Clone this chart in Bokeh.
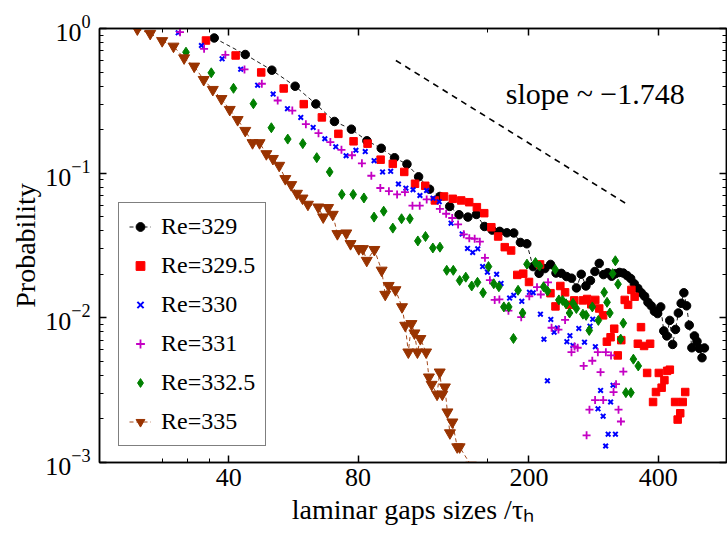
from bokeh.plotting import figure
from bokeh.models import (FixedTicker, Legend, LegendItem, Label, LogAxis, Range1d,
                          CustomJSTickFormatter)
from bokeh.embed import file_html
from bokeh.resources import INLINE

FONT = "Liberation Serif"

# ---------------- axis ticks ----------------
x_ticks = [40, 80, 200, 400]
x_tick_labels = ["40", "80", "200", "400"]
x_minor_ticks = [28, 32, 36, 160]
y_ticks = [0.001, 0.01, 0.1, 1.0]
y_minor_ticks = [m * d for d in (0.001, 0.01, 0.1) for m in range(2, 10)]

x_title = "laminar gaps sizes /\u03c4\u2095"
y_title = "Probability"

# ---------------- data ----------------
labels = ["Re=329", "Re=329.5", "Re=330", "Re=331", "Re=332.5", "Re=335"]

x_329 = [37.0, 43.7, 50.4, 57.1, 63.8, 70.5, 77.2, 83.9, 90.6, 97.3, 104.0, 110.7, 117.4,
         124.1, 130.8, 137.5, 144.2, 150.9, 157.6, 164.3, 171.0, 177.7, 184.4, 191.1,
         197.8, 204.5, 211.2, 217.9, 224.6, 231.3, 238.0, 244.7, 251.4, 258.1, 264.8,
         271.5, 278.2, 284.9, 291.6, 298.3, 305.0, 311.7, 318.4, 325.1, 331.8, 338.5,
         345.2, 351.9, 358.6, 365.3, 372.0, 378.7, 385.4, 392.1, 398.8, 405.5, 412.2,
         418.9, 425.6, 432.3, 439.0, 445.7, 452.4, 459.1, 465.8, 472.5, 479.2, 485.9,
         492.6, 499.3, 506.0, 512.7]
p_329 = [0.860, 0.661, 0.515, 0.399, 0.301, 0.2277, 0.2014, 0.1675, 0.1486, 0.1278, 0.1154,
         0.0944, 0.0775, 0.0690, 0.0589, 0.0516, 0.0497, 0.0518, 0.0428, 0.0404, 0.0396,
         0.0387, 0.0386, 0.0332, 0.0325, 0.0226, 0.0203, 0.0219, 0.0234, 0.0204, 0.0203,
         0.0193, 0.0188, 0.0161, 0.0200, 0.0166, 0.0181, 0.0209, 0.0238, 0.0199, 0.0205,
         0.0194, 0.0202, 0.0206, 0.0204, 0.0196, 0.0187, 0.0172, 0.0160, 0.0149, 0.0141,
         0.0128, 0.0121, 0.0111, 0.0107, 0.0119, 0.00812, 0.00750, 0.00960, 0.00655,
         0.00831, 0.0108, 0.0126, 0.0149, 0.0121, 0.00890, 0.00621, 0.0075, 0.00687,
         0.00614, 0.00530, 0.00619]

x_3295 = [35.4, 41.5, 47.6, 53.7, 59.8, 65.9, 72.0, 78.1, 84.2, 90.3, 96.4, 102.5, 108.6,
          114.7, 120.8, 126.9, 133.0, 139.1, 145.2, 151.3, 157.4, 163.5, 169.6, 175.7,
          181.8, 187.9, 194.0, 200.1, 212.3, 224.5, 230.6, 236.7, 242.8, 248.9, 255.0,
          267.2, 273.3, 279.4, 285.5, 291.6, 297.7, 303.8, 309.9, 316.0, 322.1, 328.2,
          334.3, 340.4, 346.5, 352.6, 358.7, 364.8, 370.9, 377.0, 383.1, 389.2, 395.3,
          401.4, 407.5, 413.6, 419.7, 425.8, 438.0, 444.1, 450.2, 456.3, 462.4]
p_3295 = [0.826, 0.651, 0.497, 0.385, 0.300, 0.243, 0.187, 0.166, 0.160, 0.124, 0.116,
          0.102, 0.0845, 0.0818, 0.0648, 0.0690, 0.0665, 0.0648, 0.0630, 0.0582, 0.0529,
          0.0423, 0.0365, 0.0308, 0.0292, 0.0198, 0.0202, 0.0177, 0.0234, 0.0148, 0.0120,
          0.0166, 0.0150, 0.0123, 0.0132, 0.0132, 0.0135, 0.0124, 0.0133, 0.0116, 0.0104,
          0.00684, 0.00734, 0.00841, 0.00550, 0.00701, 0.0133, 0.0123, 0.0156, 0.0140,
          0.00662, 0.00862, 0.00639, 0.00416, 0.00662, 0.00262, 0.00307, 0.00416, 0.00329,
          0.00371, 0.00430, 0.00438, 0.00262, 0.00198, 0.00219, 0.00262, 0.00307]

x_330 = [30.50, 34.55, 38.60, 42.65, 46.70, 50.75, 54.80, 58.85, 62.90, 66.95, 71.00,
         75.05, 79.10, 83.15, 87.20, 91.25, 95.30, 99.35, 103.40, 107.45, 111.50, 115.55,
         119.60, 123.65, 131.75, 139.85, 143.90, 147.95, 152.00, 156.05, 160.10, 168.20,
         172.25, 180.35, 184.40, 192.50, 200.60, 204.65, 212.75, 216.80, 220.85, 224.90,
         228.95, 233.00, 245.15, 249.20, 253.25, 261.35, 269.45, 277.55, 281.60, 285.65,
         289.70, 293.75, 297.80, 301.85, 305.90, 309.95, 314.00, 318.05]
p_330 = [0.934, 0.763, 0.617, 0.523, 0.406, 0.352, 0.279, 0.243, 0.207, 0.173, 0.152,
         0.132, 0.144, 0.141, 0.122, 0.102, 0.103, 0.0842, 0.0787, 0.0768, 0.0701, 0.0759,
         0.0672, 0.0635, 0.0451, 0.0380, 0.0302, 0.0283, 0.0300, 0.0226, 0.0207, 0.0200,
         0.0173, 0.0137, 0.0143, 0.0130, 0.0150, 0.0149, 0.0106, 0.00711, 0.00367,
         0.00975, 0.00796, 0.00851, 0.00684, 0.00753, 0.00645, 0.00845, 0.00679, 0.00876,
         0.00979, 0.00632, 0.00235, 0.00315, 0.00209, 0.00130, 0.00157, 0.00262, 0.00342,
         0.00157]

x_331 = [30.80, 35.04, 39.28, 43.52, 47.76, 52.00, 56.24, 60.48, 64.72, 68.96, 73.20,
         77.44, 81.68, 85.92, 90.16, 94.40, 98.64, 102.88, 107.12, 111.36, 115.60, 124.08,
         128.32, 132.56, 136.80, 141.04, 145.28, 149.52, 153.76, 158.00, 162.24, 166.48,
         170.72, 179.20, 191.92, 200.40, 208.88, 213.12, 221.60, 225.84, 234.32, 242.80,
         251.28, 255.52, 259.76, 268.24, 272.48, 276.72, 280.96, 285.20, 289.44, 293.68,
         297.92, 302.16, 310.64, 314.88, 319.12, 323.36, 327.60, 331.84]
p_331 = [0.943, 0.724, 0.658, 0.521, 0.415, 0.318, 0.271, 0.218, 0.189, 0.164, 0.145,
         0.133, 0.117, 0.0960, 0.0790, 0.0751, 0.0713, 0.0739, 0.0596, 0.0596, 0.0658,
         0.0566, 0.0524, 0.0490, 0.0442, 0.0378, 0.0355, 0.0352, 0.0336, 0.0260, 0.0182,
         0.0133, 0.0134, 0.0112, 0.0101, 0.0141, 0.0163, 0.0145, 0.0176, 0.00854, 0.00829,
         0.00967, 0.00579, 0.00634, 0.00621, 0.00465, 0.00154, 0.00232, 0.00505, 0.00270,
         0.00579, 0.00421, 0.00270, 0.00579, 0.00550, 0.00307, 0.00348, 0.00232, 0.00192,
         0.00425]

x_3325 = [31.80, 36.42, 41.03, 45.65, 50.26, 54.88, 59.49, 64.11, 68.72, 73.34, 77.95,
          82.57, 87.18, 91.80, 96.41, 101.03, 105.64, 110.26, 114.87, 119.49, 124.10,
          128.72, 133.33, 137.95, 142.56, 147.18, 151.79, 156.41, 161.02, 165.64, 170.25,
          174.87, 179.48, 184.10, 188.71, 193.33, 197.94, 207.17, 211.79, 216.40, 221.02,
          230.25, 234.86, 239.48, 244.09, 248.71, 253.32, 257.94, 267.17, 271.78, 276.40,
          281.01, 290.24, 299.47, 304.09, 308.70, 313.32, 317.93, 322.55, 327.16, 331.78,
          336.39, 345.62, 350.24, 359.47]
p_3325 = [0.686, 0.494, 0.386, 0.302, 0.206, 0.172, 0.160, 0.128, 0.102, 0.0713, 0.0713,
          0.0674, 0.0497, 0.0546, 0.0417, 0.0484, 0.0484, 0.0340, 0.0365, 0.0304, 0.0308,
          0.0213, 0.0213, 0.0181, 0.0191, 0.0166, 0.0176, 0.0149, 0.0226, 0.0172, 0.0164,
          0.0119, 0.0119, 0.00720, 0.0155, 0.0108, 0.0235, 0.0241, 0.0228, 0.0164, 0.0153,
          0.0216, 0.0133, 0.0132, 0.0125, 0.0108, 0.0126, 0.0116, 0.0106, 0.0104, 0.00818,
          0.0119, 0.00960, 0.0150, 0.0128, 0.0108, 0.0202, 0.0248, 0.0171, 0.00713,
          0.00919, 0.00304, 0.00304, 0.00518, 0.00465]

x_335 = [24.50, 26.25, 27.99, 29.74, 31.48, 33.23, 34.97, 36.72, 38.46, 40.21, 41.95,
         43.70, 45.44, 47.19, 48.93, 50.68, 52.42, 54.17, 55.91, 57.66, 59.40, 61.15,
         64.64, 66.38, 68.13, 69.87, 71.62, 75.11, 76.85, 80.34, 82.09, 83.83, 87.32,
         90.81, 92.56, 94.30, 97.79, 101.28, 103.03, 104.77, 106.52, 108.26, 110.01,
         111.75, 115.24, 116.99, 118.73, 122.22, 123.97, 125.71, 127.46, 129.20, 130.95,
         132.69, 136.18, 137.93, 146.65]
p_335 = [0.990, 0.923, 0.822, 0.753, 0.625, 0.548, 0.443, 0.378, 0.327, 0.275, 0.234,
         0.197, 0.162, 0.162, 0.136, 0.126, 0.113, 0.0915, 0.0831, 0.0724, 0.0671, 0.0608,
         0.0582, 0.0497, 0.0577, 0.0518, 0.0381, 0.0385, 0.0325, 0.0300, 0.0300, 0.0249,
         0.0296, 0.0213, 0.0145, 0.0167, 0.0156, 0.0119, 0.00886, 0.00579, 0.00910,
         0.00784, 0.00579, 0.00717, 0.00579, 0.00389, 0.00346, 0.00296, 0.00421, 0.00296,
         0.00332, 0.00223, 0.00160, 0.00190, 0.00128, 0.00128, 0.000955]

# reference slope line (start / end)
slope_x = [98.0, 335.0]
slope_y = [0.601, 0.0622]
slope_text = "slope ~ \u22121.748"
slope_text_pos = (176.7, 0.3527)

# ---------------- figure ----------------
p = figure(width=727, height=545, x_axis_type="log", y_axis_type="log",
           x_range=Range1d(20, 577), y_range=Range1d(0.001, 1.0),
           output_backend="svg", toolbar_location=None,
           min_border_left=99, min_border_right=1, min_border_top=28,
           min_border_bottom=83)
p.grid.visible = False
p.outline_line_color = "black"
p.outline_line_width = 1.5
p.background_fill_color = "white"
p.border_fill_color = "white"

xax = p.below[0]
yax = p.left[0]

xt = FixedTicker(ticks=x_ticks, minor_ticks=x_minor_ticks)
yt = FixedTicker(ticks=y_ticks, minor_ticks=y_minor_ticks)
xax.ticker = xt
yax.ticker = yt
xax.formatter = CustomJSTickFormatter(
    args=dict(tv=x_ticks, tl=x_tick_labels),
    code="""
const i = tv.findIndex((t) => Math.abs(t - tick) < 1e-6 * t);
return i >= 0 ? tl[i] : '';
""")

blank = CustomJSTickFormatter(code="return ''")
top_ax = LogAxis(ticker=xt, formatter=blank)
right_ax = LogAxis(ticker=yt, formatter=blank)
p.add_layout(top_ax, "above")
p.add_layout(right_ax, "right")

for ax in [xax, yax, top_ax, right_ax]:
    ax.axis_line_color = "black"
    ax.axis_line_width = 1.5
    ax.major_tick_in = 7
    ax.major_tick_out = 0
    ax.minor_tick_in = 4
    ax.minor_tick_out = 0
    ax.major_tick_line_width = 1.5
    ax.minor_tick_line_width = 1
    ax.major_tick_line_color = "black"
    ax.minor_tick_line_color = "black"
    ax.major_label_text_font = FONT
    ax.major_label_text_font_size = "26px"
    ax.major_label_text_color = "black"
for ax in [top_ax, right_ax]:
    ax.major_label_standoff = 0
xax.major_label_standoff = 6
yax.major_label_standoff = 9

xax.axis_label = x_title
yax.axis_label = y_title
for ax in [xax, yax]:
    ax.axis_label_text_font = FONT
    ax.axis_label_text_font_size = "28px"
    ax.axis_label_text_font_style = "normal"
    ax.axis_label_text_color = "black"
xax.axis_label_standoff = 5
yax.axis_label_standoff = 1

# ---------------- series ----------------
r_329_line = p.line(x_329, p_329, line_color="black", line_width=0.9, line_dash="4 3")
r_329 = p.scatter(x_329, p_329, marker="circle", size=8.5, fill_color="black",
                  line_color="black")
r_3295 = p.scatter(x_3295, p_3295, marker="square", size=7.5, fill_color="#ff0000",
                   line_color="#ff0000")
r_330 = p.scatter(x_330, p_330, marker="x", size=6.5, line_color="#0000ff",
                  line_width=2)
r_331 = p.scatter(x_331, p_331, marker="cross", size=8, line_color="#c400c4",
                  line_width=1.8)
r_3325 = p.scatter(x_3325, p_3325, marker="diamond", size=10, fill_color="#008000",
                   line_color="#008000")
r_335_line = p.line(x_335, p_335, line_color="#993300", line_width=0.9, line_dash="4 3")
r_335 = p.scatter(x_335, p_335, marker="inverted_triangle", size=11,
                  fill_color="#993300", line_color="#993300")

p.line(slope_x, slope_y, line_color="black", line_width=1.6, line_dash="6 5")

p.add_layout(Label(x=slope_text_pos[0], y=slope_text_pos[1], text=slope_text,
                   text_font=FONT, text_font_size="30px", text_color="black",
                   text_baseline="alphabetic", text_align="left"))

# ---------------- legend ----------------
legend = Legend(items=[
    LegendItem(label=labels[0], renderers=[r_329_line, r_329]),
    LegendItem(label=labels[1], renderers=[r_3295]),
    LegendItem(label=labels[2], renderers=[r_330]),
    LegendItem(label=labels[3], renderers=[r_331]),
    LegendItem(label=labels[4], renderers=[r_3325]),
    LegendItem(label=labels[5], renderers=[r_335_line, r_335]),
], location=(19, 16))
legend.label_text_font = FONT
legend.label_text_font_size = "24px"
legend.label_text_color = "black"
legend.border_line_color = "black"
legend.border_line_width = 1.5
legend.background_fill_color = "white"
legend.background_fill_alpha = 1.0
legend.margin = 0
legend.padding = 10
legend.spacing = 12
legend.label_height = 22
legend.glyph_height = 27
legend.glyph_width = 22
legend.label_standoff = 10
p.add_layout(legend, "center")

open("out.html", "w").write(file_html(p, INLINE))
